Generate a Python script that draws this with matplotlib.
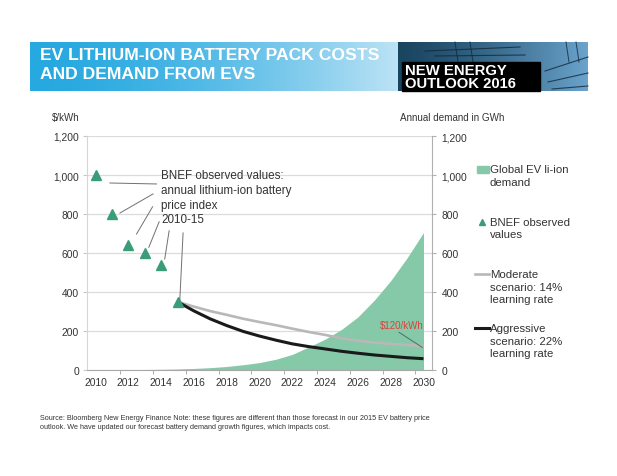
import matplotlib
matplotlib.use("Agg")
import matplotlib.pyplot as plt
import numpy as np
from matplotlib.patches import Rectangle

plt.rcParams["font.family"] = ["Liberation Sans", "DejaVu Sans"]

# ---------------------------------------------------------------------------
# data
# ---------------------------------------------------------------------------
obs_years = [2010, 2011, 2012, 2013, 2014, 2015]
obs_price = [1000, 800, 642, 599, 540, 350]          # $/kWh

proj_years = list(range(2015, 2031))
moderate = [350, 325, 302, 283, 263, 246, 230, 212, 195, 180, 163, 150, 141, 134, 128, 123]
aggressive = [350, 303, 262, 228, 198, 174, 153, 134, 120, 108, 96, 86, 77, 70, 63, 58]

demand_years = list(range(2010, 2031))
demand_gwh = [0.5, 1, 1.5, 2.5, 3.5, 5, 8, 12, 18, 27, 38, 55, 80, 118, 158, 208,
              272, 358, 458, 575, 705]

year_ticks = list(range(2010, 2031, 2))
y_ticks = [0, 200, 400, 600, 800, 1000, 1200]

# colours
AREA_C = "#86c9a8"
TRI_C = "#3a9d78"
MOD_C = "#b8b8b8"
AGG_C = "#1a1a1a"
TXT_C = "#333333"
GRID_C = "#dcdcdc"

W, H = 617, 477
fig = plt.figure(figsize=(W / 100, H / 100), dpi=100)


def fx(px):
    return px / W


def fy(py):
    return 1 - py / H


# ---------------------------------------------------------------------------
# main chart
# ---------------------------------------------------------------------------
ax = fig.add_axes([fx(87.3), fy(371), fx(431.7) - fx(87.3), fy(137) - fy(371)])
ax.set_xlim(2009.5, 2030.5)
ax.set_ylim(0, 1200)
ax.set_axisbelow(True)

ax.fill_between(demand_years, demand_gwh, 0, color=AREA_C, lw=0, zorder=1)
ax.plot(proj_years, moderate, color=MOD_C, lw=1.9, zorder=3, solid_capstyle="butt")
ax.plot(proj_years, aggressive, color=AGG_C, lw=2.2, zorder=3, solid_capstyle="butt")
ax.plot(obs_years, obs_price, ls="none", marker="^", ms=6.5, color=TRI_C, zorder=4)

ax.yaxis.grid(True, color=GRID_C, lw=0.9)
ax.set_yticks(y_ticks)
ax.set_yticklabels([f"{v:,}" for v in y_ticks])
ax.set_xticks(year_ticks)
ax.set_xticks(np.arange(2011.5, 2030, 2), minor=True)
ax.tick_params(axis="x", which="major", length=0, pad=5, labelsize=7.4, colors=TXT_C)
ax.tick_params(axis="x", which="minor", length=3, color="#a0a0a0")
ax.tick_params(axis="y", length=3, pad=3, labelsize=7.4, colors=TXT_C, color="#c8c8c8")
for s in ["top", "right"]:
    ax.spines[s].set_visible(False)
ax.spines["left"].set_color("#d6d6d6")
ax.spines["bottom"].set_color("#a8a8a8")

ax2 = ax.twinx()
ax2.set_ylim(0, 1200)
ax2.set_yticks(y_ticks)
ax2.set_yticklabels([f"{v:,}" for v in y_ticks])
ax2.tick_params(axis="y", length=3, pad=4, labelsize=7.4, colors=TXT_C, color="#b0b0b0")
for s in ["top", "left", "bottom"]:
    ax2.spines[s].set_visible(False)
ax2.spines["right"].set_color("#b0b0b0")

# annotation: observed values
ax.text(2014.02, 1030, "BNEF observed values:\nannual lithium-ion battery\nprice index\n2010-15",
        fontsize=8.4, color=TXT_C, va="top", ha="left", linespacing=1.3, zorder=5)
leaders = [((2010.88, 959), (2013.72, 954)),
           ((2011.49, 805), (2013.51, 903)),
           ((2012.50, 697), (2013.48, 837)),
           ((2013.25, 629), (2013.88, 760)),
           ((2014.22, 569), (2014.49, 714)),
           ((2015.14, 358), (2015.34, 703))]
for (x0, y0), (x1, y1) in leaders:
    ax.plot([x0, x1], [y0, y1], color="#707070", lw=0.7, zorder=5)

ax.text(2030.0, 232, "$120/kWh", color="#d9443a", fontsize=7, ha="right", va="center", zorder=5)
ax.plot([2028.51, 2029.93], [193, 116], color="#4a6f62", lw=0.7, zorder=5)

# ---------------------------------------------------------------------------
# overlay: header, axis titles, legend, footer (pixel coords)
# ---------------------------------------------------------------------------
ov = fig.add_axes([0, 0, 1, 1], zorder=10)
ov.set_xlim(0, W)
ov.set_ylim(H, 0)
ov.axis("off")
ov.patch.set_alpha(0)

grad = np.linspace(0, 1, 256).reshape(1, -1)
left_c = np.array([0.15, 0.66, 0.88])
right_c = np.array([0.74, 0.89, 0.96])
g = left_c + (right_c - left_c) * (grad[..., None] ** 1.6)
ov.imshow(g, extent=[30, 398, 92, 43], aspect="auto", zorder=1)

ph_l = np.array([0.10, 0.27, 0.38])
ph_r = np.array([0.42, 0.64, 0.80])
gp = ph_l + (ph_r - ph_l) * (grad[..., None] ** 1.3)
ov.imshow(gp, extent=[398, 588, 92, 43], aspect="auto", zorder=1)
# power-line silhouettes
for (xa, ya, xb, yb) in [(545, 72, 588, 58), (548, 83, 588, 74), (552, 90, 588, 87),
                         (425, 52, 520, 48), (435, 57, 525, 56)]:
    ov.plot([xa, xb], [ya, yb], color="#10293a", lw=0.8, alpha=0.8, zorder=2)
for xp in [455, 470, 566, 576]:
    ov.plot([xp, xp + 3], [43, 63], color="#10293a", lw=0.7, alpha=0.8, zorder=2)

ov.add_patch(Rectangle((402, 63), 138, 29, color="black", zorder=3))
ov.text(405, 71, "NEW ENERGY", color="white", fontsize=10.7, fontweight="bold",
        va="center", ha="left", zorder=4)
ov.text(405, 83.5, "OUTLOOK 2016", color="white", fontsize=10.7, fontweight="bold",
        va="center", ha="left", zorder=4)

ov.text(40, 56, "EV LITHIUM-ION BATTERY PACK COSTS", color="white", fontsize=12.6,
        fontweight="bold", va="center", ha="left", zorder=4)
ov.text(40, 74.5, "AND DEMAND FROM EVS", color="white", fontsize=12.6,
        fontweight="bold", va="center", ha="left", zorder=4)

ov.text(52, 118, "$/kWh", fontsize=7, color=TXT_C, va="center", ha="left")
ov.text(400.5, 118, "Annual demand in GWh", fontsize=7.1, color=TXT_C, va="center", ha="left")

# legend
LEG_FS = 8.2
LS = 1.3
ov.add_patch(Rectangle((476.5, 166.5), 12, 7, color=AREA_C))
ov.text(490, 165.5, "Global EV li-ion\ndemand", fontsize=LEG_FS, color=TXT_C,
        va="top", ha="left", linespacing=LS)
ov.plot([482], [222.5], marker="^", ms=5, color=TRI_C, ls="none")
ov.text(490, 218, "BNEF observed\nvalues", fontsize=LEG_FS, color=TXT_C,
        va="top", ha="left", linespacing=LS)
ov.plot([475, 488.5], [275, 275], color=MOD_C, lw=1.9)
ov.text(490, 270.5, "Moderate\nscenario: 14%\nlearning rate", fontsize=LEG_FS, color=TXT_C,
        va="top", ha="left", linespacing=LS)
ov.plot([475, 488.5], [329, 329], color=AGG_C, lw=2.2)
ov.text(490, 324.5, "Aggressive\nscenario: 22%\nlearning rate", fontsize=LEG_FS, color=TXT_C,
        va="top", ha="left", linespacing=LS)

ov.text(40, 419, "Source: Bloomberg New Energy Finance Note: these figures are different than "
        "those forecast in our 2015 EV battery price", fontsize=5.25, color=TXT_C,
        va="center", ha="left")
ov.text(40, 428, "outlook. We have updated our forecast battery demand growth figures, "
        "which impacts cost.", fontsize=5.25, color=TXT_C, va="center", ha="left")

fig.savefig("out.png", dpi=100)
